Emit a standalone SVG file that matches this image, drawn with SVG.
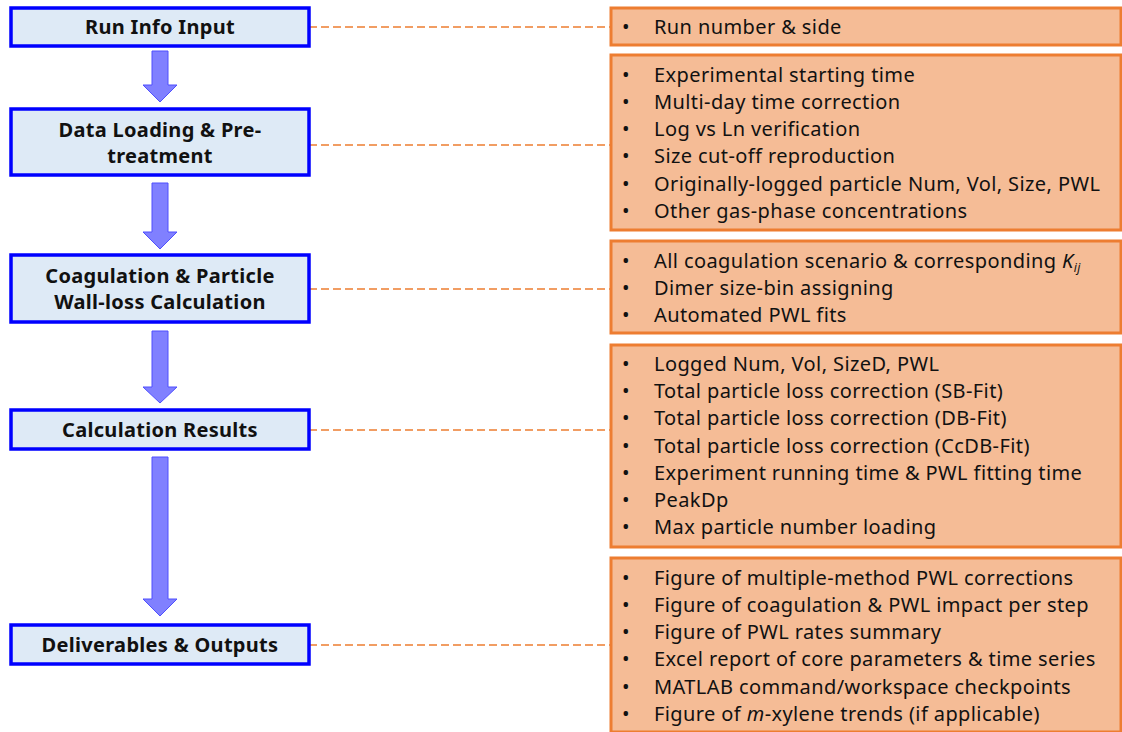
<svg xmlns="http://www.w3.org/2000/svg" width="1122" height="732" viewBox="0 0 1122 732">
<style>
.step{fill:#DEEAF6;stroke:#0000FF;stroke-width:3.5}
.steptxt{font-family:"Noto Sans","Open Sans",sans-serif;font-weight:bold;font-size:20px;letter-spacing:0.3px;fill:#111;text-anchor:middle}
.det{fill:#F5BC96;stroke:#ED7D31;stroke-width:3}
.dettxt{font-family:"Noto Sans","Open Sans",sans-serif;font-size:20px;letter-spacing:0.4px;fill:#111}
.arrow{fill:#8080FF;stroke:#4F4FFF;stroke-width:1}
.conn{stroke:#ED7D31;stroke-width:1.5;stroke-dasharray:8 4;fill:none}
</style>
<rect width="1122" height="732" fill="#fff"/>
<g id="connectors">
<line class="conn" x1="309" y1="27" x2="611" y2="27"/>
<line class="conn" x1="309" y1="145" x2="611" y2="145"/>
<line class="conn" x1="309" y1="289" x2="611" y2="289"/>
<line class="conn" x1="309" y1="430" x2="611" y2="430"/>
<line class="conn" x1="309" y1="645" x2="611" y2="645"/>
<polygon class="arrow" points="152,51 168,51 168,85 177,85 160,102 143,85 152,85"/>
<polygon class="arrow" points="152,183 168,183 168,232 177,232 160,249 143,232 152,232"/>
<polygon class="arrow" points="152,331 168,331 168,387 177,387 160,403 143,387 152,387"/>
<polygon class="arrow" points="152,457 168,457 168,599 177,599 160,616 143,599 152,599"/>
</g>
<g id="step1"><rect class="step" x="11" y="8" width="298" height="38"/><text class="steptxt" x="160" y="34">Run Info Input</text></g>
<g id="step2"><rect class="step" x="11" y="109" width="298" height="66"/><text class="steptxt" x="160" y="137">Data Loading &amp; Pre-</text><text class="steptxt" x="160" y="163">treatment</text></g>
<g id="step3"><rect class="step" x="11" y="255" width="298" height="67"/><text class="steptxt" x="160" y="283">Coagulation &amp; Particle</text><text class="steptxt" x="160" y="309">Wall-loss Calculation</text></g>
<g id="step4"><rect class="step" x="11" y="410" width="298" height="39"/><text class="steptxt" x="160" y="437">Calculation Results</text></g>
<g id="step5"><rect class="step" x="11" y="625" width="298" height="39"/><text class="steptxt" x="160" y="652">Deliverables &amp; Outputs</text></g>
<g id="detail1"><rect class="det" x="611" y="8" width="510" height="37"/>
<text class="dettxt" x="622" y="34">•</text><text class="dettxt" x="654" y="34">Run number &amp; side</text></g>
<g id="detail2"><rect class="det" x="611" y="55" width="510" height="175"/>
<text class="dettxt"><tspan x="622" y="82">•</tspan><tspan x="622" y="109">•</tspan><tspan x="622" y="136">•</tspan><tspan x="622" y="163">•</tspan><tspan x="622" y="191">•</tspan><tspan x="622" y="218">•</tspan></text>
<text class="dettxt"><tspan x="654" y="82">Experimental starting time</tspan><tspan x="654" y="109">Multi-day time correction</tspan><tspan x="654" y="136">Log vs Ln verification</tspan><tspan x="654" y="163">Size cut-off reproduction</tspan><tspan x="654" y="191">Originally-logged particle Num, Vol, Size, PWL</tspan><tspan x="654" y="218">Other gas-phase concentrations</tspan></text></g>
<g id="detail3"><rect class="det" x="611" y="241" width="510" height="92"/>
<text class="dettxt"><tspan x="622" y="268">•</tspan><tspan x="622" y="295">•</tspan><tspan x="622" y="322">•</tspan></text>
<text class="dettxt"><tspan x="654" y="268">All coagulation scenario &amp; corresponding <tspan font-style="italic">K</tspan><tspan font-style="italic" font-size="12" dy="4">ij</tspan></tspan><tspan x="654" y="295">Dimer size-bin assigning</tspan><tspan x="654" y="322">Automated PWL fits</tspan></text></g>
<g id="detail4"><rect class="det" x="611" y="345" width="510" height="202"/>
<text class="dettxt"><tspan x="622" y="371">•</tspan><tspan x="622" y="398">•</tspan><tspan x="622" y="425">•</tspan><tspan x="622" y="453">•</tspan><tspan x="622" y="480">•</tspan><tspan x="622" y="507">•</tspan><tspan x="622" y="534">•</tspan></text>
<text class="dettxt"><tspan x="654" y="371">Logged Num, Vol, SizeD, PWL</tspan><tspan x="654" y="398">Total particle loss correction (SB-Fit)</tspan><tspan x="654" y="425">Total particle loss correction (DB-Fit)</tspan><tspan x="654" y="453">Total particle loss correction (CcDB-Fit)</tspan><tspan x="654" y="480">Experiment running time &amp; PWL fitting time</tspan><tspan x="654" y="507">PeakDp</tspan><tspan x="654" y="534">Max particle number loading</tspan></text></g>
<g id="detail5"><rect class="det" x="611" y="558" width="510" height="174"/>
<text class="dettxt"><tspan x="622" y="585">•</tspan><tspan x="622" y="612">•</tspan><tspan x="622" y="639">•</tspan><tspan x="622" y="666">•</tspan><tspan x="622" y="694">•</tspan><tspan x="622" y="721">•</tspan></text>
<text class="dettxt"><tspan x="654" y="585">Figure of multiple-method PWL corrections</tspan><tspan x="654" y="612">Figure of coagulation &amp; PWL impact per step</tspan><tspan x="654" y="639">Figure of PWL rates summary</tspan><tspan x="654" y="666">Excel report of core parameters &amp; time series</tspan><tspan x="654" y="694">MATLAB command/workspace checkpoints</tspan><tspan x="654" y="721">Figure of <tspan font-style="italic">m</tspan>-xylene trends (if applicable)</tspan></text></g>
</svg>
